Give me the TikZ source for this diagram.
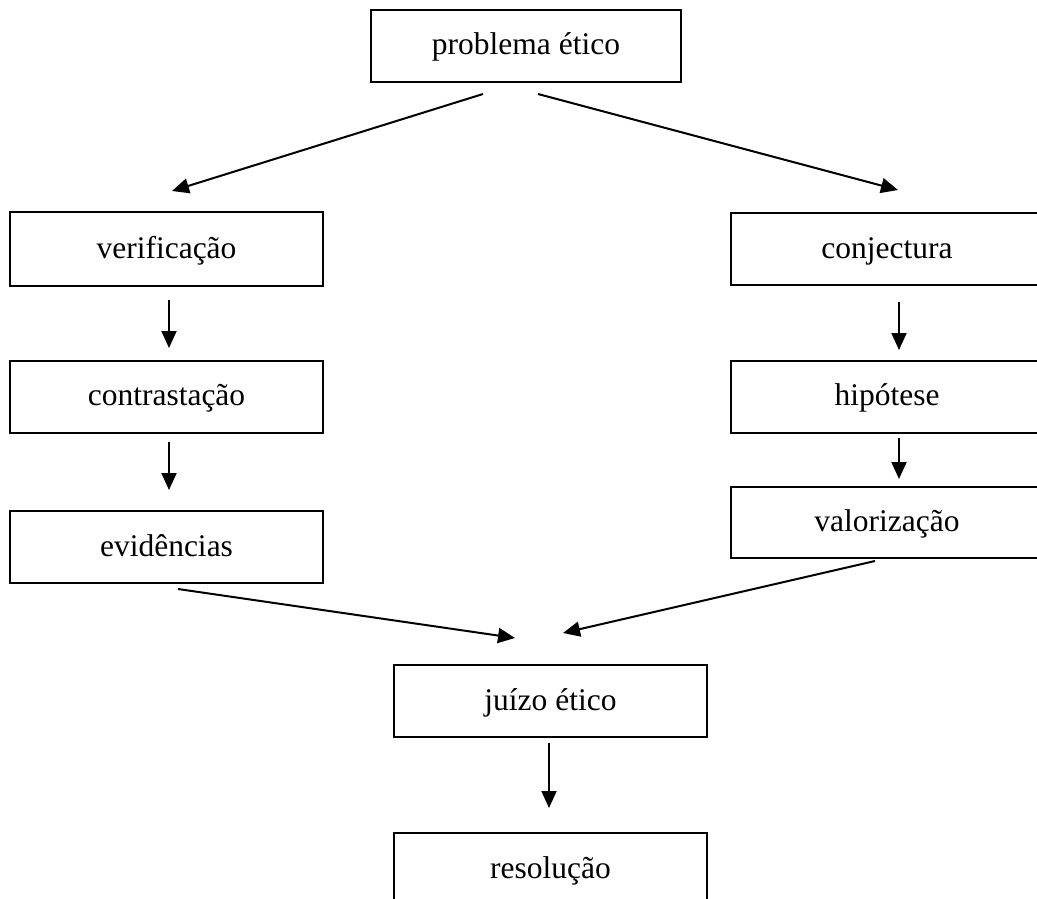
\documentclass[tikz,border=0pt]{standalone}
\usepackage{fontspec}
\setmainfont{Liberation Serif}
\usetikzlibrary{arrows.meta}

\tikzset{
  stage/.style={draw, line width=2pt, rectangle, inner sep=0pt,
    minimum width=313pt, minimum height=72pt,
    font=\fontsize{31.5}{38}\selectfont, text height=22pt, text depth=4pt},
  flow/.style={line width=2pt, -{Triangle[length=17pt,width=15pt]}}
}

\begin{document}
\begin{tikzpicture}[x=1pt, y=-1pt]
  \useasboundingbox (0,0) rectangle (1037,899);
  \clip (0,0) rectangle (1037,899);

  % boxes
  \node[stage, minimum width=310pt] (prob) at (526,46) {problema ético};
  \node[stage, minimum height=74pt] (ver) at (166.5,249) {verificação};
  \node[stage] (contr) at (166.5,396.5) {contrastação};
  \node[stage] (evid) at (166.5,547) {evidências};
  \node[stage] (conj) at (887,249) {conjectura};
  \node[stage] (hip) at (887,396.5) {hipótese};
  \node[stage, minimum height=71pt] (val) at (887,522.5) {valorização};
  \node[stage] (juizo) at (550.5,701) {juízo ético};
  \node[stage] (resol) at (550.5,869) {resolução};

  % arrow end points
  \coordinate (p1) at (483,94);
  \coordinate (p2) at (538,94);
  \coordinate (v1) at (172,191);
  \coordinate (c1) at (898,190);
  \coordinate (va) at (169,300);
  \coordinate (vb) at (169,348);
  \coordinate (vc) at (169,442);
  \coordinate (vd) at (169,490);
  \coordinate (ca) at (899,302);
  \coordinate (cb) at (899,350);
  \coordinate (cc) at (899,438);
  \coordinate (cd) at (899,479);
  \coordinate (e1) at (178,589);
  \coordinate (e2) at (515,638);
  \coordinate (w1) at (875,561);
  \coordinate (w2) at (563,633);
  \coordinate (ja) at (549,743);
  \coordinate (jb) at (549,808);

  % connectors
  \draw[flow] (p1) -- (v1);
  \draw[flow] (p2) -- (c1);
  \draw[flow] (va) -- (vb);
  \draw[flow] (vc) -- (vd);
  \draw[flow] (ca) -- (cb);
  \draw[flow] (cc) -- (cd);
  \draw[flow] (e1) -- (e2);
  \draw[flow] (w1) -- (w2);
  \draw[flow] (ja) -- (jb);
\end{tikzpicture}
\end{document}
